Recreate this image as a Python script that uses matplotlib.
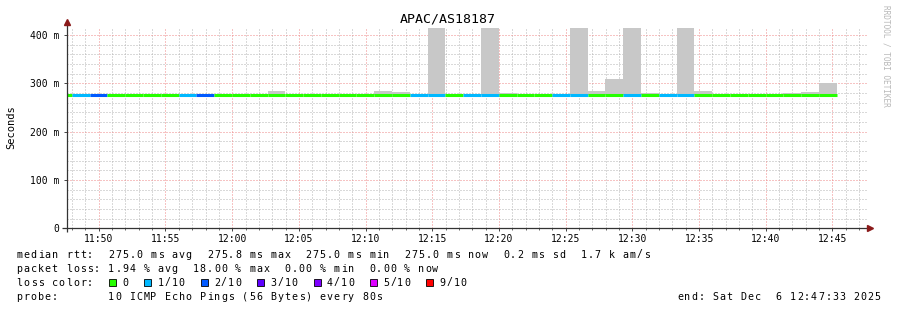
import numpy as np
import matplotlib
matplotlib.use("Agg")
import matplotlib.pyplot as plt
from matplotlib.patches import Rectangle

W, H = 897, 310

# ---------------- data ----------------
title = "APAC/AS18187"
# 80 s bins; offsets in seconds from the left edge of the time window (1 hour)
bin_step = 80
first_edge = 22 - 80          # left edge of first (partial) bin
loss_tenths = [0, 1, 2, 0, 0, 0, 0, 1, 2,
               0, 0, 0, 0, 0, 0, 0, 0, 0, 0, 0,
               1, 1, 0, 1, 1, 0, 0, 0, 1, 1, 0, 0, 1, 0, 1, 1, 0, 0,
               0, 0, 0, 0, 0, 0]
median_ms = [275.0] * 44
median_ms[4] = 275.8
median_ms[37] = 275.8
rtt_max_ms = [275.0] * 44
for k, v in {12: 284, 18: 284, 19: 282, 21: 414, 24: 414, 25: 280, 29: 414,
             30: 284, 31: 309, 32: 414, 33: 280, 35: 414, 36: 284,
             41: 280, 42: 282, 43: 300}.items():
    rtt_max_ms[k] = v

loss_colors = {0: "#26ff00", 1: "#00b8ff", 2: "#0059ff", 3: "#5e00ff",
               4: "#7e00ff", 5: "#dd00ff", 9: "#ff0000"}
legend_loss_labels = ["0", "1/10", "2/10", "3/10", "4/10", "5/10", "9/10"]
legend_loss_keys = [0, 1, 2, 3, 4, 5, 9]

first_tick = 143
x_tick_pos = [first_tick + 300 * i for i in range(12)]     # 11:50 ... 12:45
x_tick_labels = ["11:50", "11:55", "12:00", "12:05", "12:10", "12:15",
                 "12:20", "12:25", "12:30", "12:35", "12:40", "12:45"]
y_ticks = [0, 100, 200, 300, 400]
y_tick_labels = ["0", "100 m", "200 m", "300 m", "400 m"]

row1 = "median rtt:  275.0 ms avg  275.8 ms max  275.0 ms min  275.0 ms now  0.2 ms sd  1.7 k am/s"
row2 = "packet loss: 1.94 % avg  18.00 % max  0.00 % min  0.00 % now"
row4 = "probe:       10 ICMP Echo Pings (56 Bytes) every 80s"
end_text = "end: Sat Dec  6 12:47:33 2025"

# ---------------- figure ----------------
fig = plt.figure(figsize=(W / 100, H / 100), dpi=100)
fig.patch.set_facecolor("white")

def fx(px):
    return px / W

def fy(py):
    return 1 - py / H

ax_l, ax_r, ax_b, ax_t = 67, 867.4, 228.3, 28.3
ax = fig.add_axes([fx(ax_l), fy(ax_b), fx(ax_r - ax_l), (ax_b - ax_t) / H])
ax.set_xlim(0, 3600)
ax.set_ylim(0, 414)
for s in ax.spines.values():
    s.set_visible(False)

# grid
dots = (0, (1, 2))
minor_x = np.arange(first_tick % 60, 3600, 60)
minor_y = np.arange(20, 414, 20)
for xv in minor_x:
    if (xv - first_tick) % 300 != 0:
        ax.axvline(xv, color="#b4b4b4", lw=0.72, ls=dots, zorder=0)
for yv in minor_y:
    if yv % 100 != 0:
        ax.axhline(yv, color="#b4b4b4", lw=0.72, ls=dots, zorder=0)
for xv in x_tick_pos:
    ax.axvline(xv, color="#ee8888", lw=0.72, ls=dots, zorder=0.5)
for yv in y_ticks[1:]:
    ax.axhline(yv, color="#ee8888", lw=0.72, ls=dots, zorder=0.5)

# smoke and median line
n = len(loss_tenths)
lefts = np.array([first_edge + bin_step * i for i in range(n)], dtype=float)
rights = lefts + bin_step
lefts_c = np.clip(lefts, 0, 3600)
med = np.array(median_ms)
tops = np.array(rtt_max_ms, dtype=float)
ax.bar(lefts_c, tops - med, width=rights - lefts_c, bottom=med, align="edge",
       color="#c8c8c8", linewidth=0, zorder=1)
ax.hlines(med, lefts_c, rights, colors=[loss_colors[l] for l in loss_tenths],
          linewidth=2.2, zorder=2)

# ticks
ax.set_xticks(x_tick_pos)
ax.set_xticklabels(x_tick_labels)
ax.set_xticks(minor_x, minor=True)
ax.set_yticks(y_ticks)
ax.set_yticklabels(y_tick_labels)
ax.tick_params(axis="both", which="major", labelsize=7, width=0.7,
               color="#444444", direction="out")
ax.tick_params(axis="x", which="major", length=2.5, pad=1.5)
ax.tick_params(axis="x", which="minor", length=1.5, width=0.7, color="#666666",
               direction="out")
ax.tick_params(axis="y", which="major", length=2, pad=3.5)
for lab in ax.get_xticklabels() + ax.get_yticklabels():
    lab.set_family("DejaVu Sans Mono")

# axis lines with arrows
ax.plot([0, 0], [-0.02, 1.03], transform=ax.transAxes, color="#333333", lw=0.9,
        clip_on=False, zorder=3, solid_capstyle="butt")
ax.plot([-5 / 800, 1.003], [0, 0], transform=ax.transAxes, color="#333333", lw=0.9,
        clip_on=False, zorder=3, solid_capstyle="butt")
ax.plot([0], [1.03], transform=ax.transAxes, marker="^", color="#8b1a1a",
        markersize=4, clip_on=False, zorder=4)
ax.plot([1.003], [0], transform=ax.transAxes, marker=">", color="#8b1a1a",
        markersize=4, clip_on=False, zorder=4)

# title, label, watermark
fig.text(fx(448), fy(19), title, ha="center", va="center",
         family="DejaVu Sans Mono", fontsize=9.5, color="black")
fig.text(fx(11), fy(127), "Seconds", ha="center", va="center", rotation=90,
         family="DejaVu Sans Mono", fontsize=7.5, color="black")
fig.text(fx(886), fy(5), "RRDTOOL / TOBI OETIKER", ha="center", va="top",
         rotation=270, family="DejaVu Sans Mono", fontsize=5.6, color="#b8b8b8")

# legend (monospaced cells)
CW = 7.05
X0 = 16

def mono_row(s, y, x0=X0):
    for i, ch in enumerate(s):
        if ch != " ":
            fig.text(fx(x0 + (i + 0.5) * CW), fy(y), ch, ha="center", va="center",
                     family="DejaVu Sans Mono", fontsize=7.2, color="black")

mono_row(row1, 254.5)
mono_row(row2, 268.5)
mono_row("loss color:", 282.5)
col = 13
for key, lab in zip(legend_loss_keys, legend_loss_labels):
    bx = X0 + col * CW + 1.5
    fig.patches.append(Rectangle((fx(bx), fy(286)), fx(7), 7 / H,
                                 transform=fig.transFigure, facecolor=loss_colors[key],
                                 edgecolor="black", linewidth=0.6))
    mono_row(lab, 282.5, x0=X0 + (col + 2) * CW)
    col += 2 + len(lab) + 2
mono_row(row4, 296.5)
mono_row(end_text, 296.5, x0=881 - len(end_text) * CW)

fig.savefig("out.png", dpi=100, facecolor="white")
